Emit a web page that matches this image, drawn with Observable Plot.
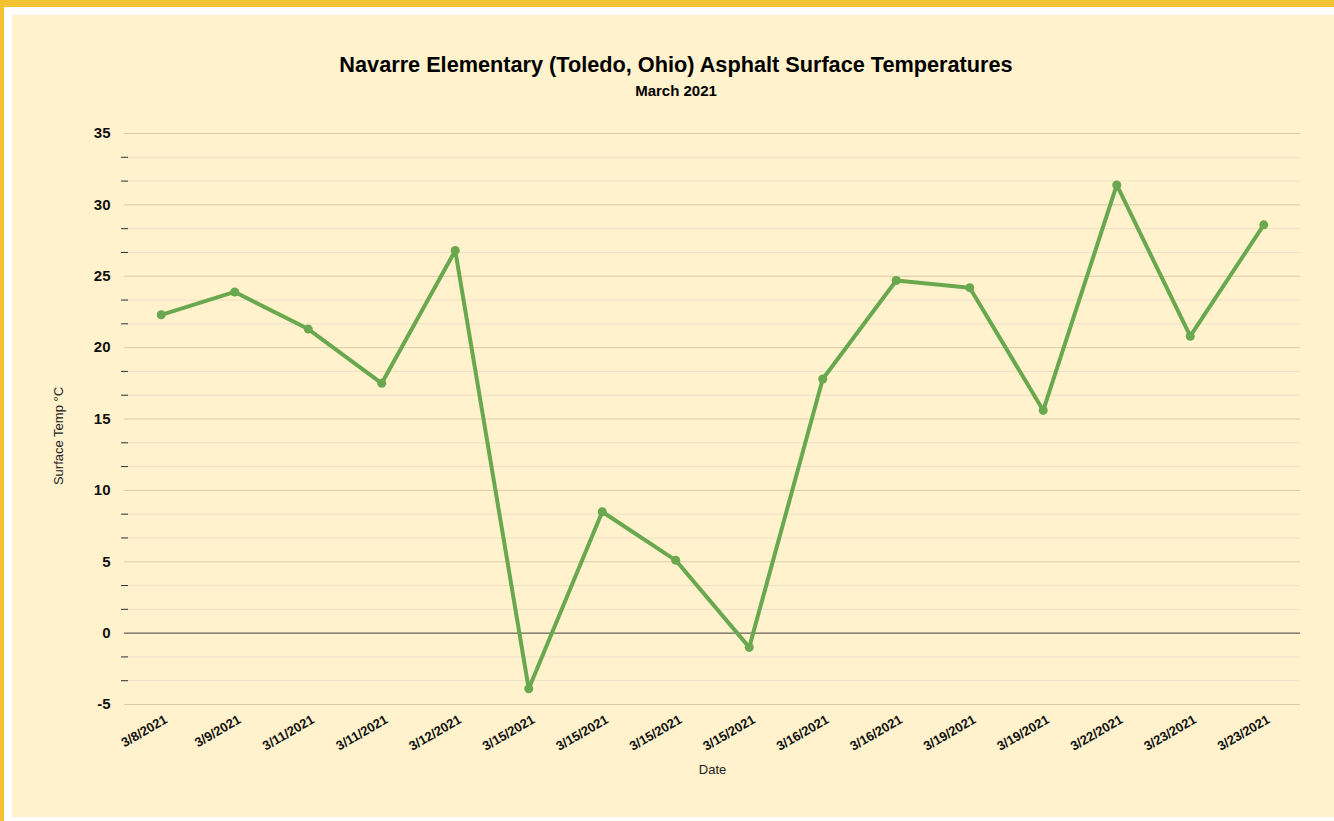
<!DOCTYPE html>
<html><head><meta charset="utf-8">
<script src="https://cdn.jsdelivr.net/npm/d3@7"></script>
<script src="https://cdn.jsdelivr.net/npm/@observablehq/plot@0.6"></script>
<style>
body{margin:0;background:#fff;width:1334px;height:821px;overflow:hidden;position:relative;font-family:"Liberation Sans",Arial,sans-serif}
#topbar{position:absolute;left:0;top:0;width:1334px;height:7px;background:#f1c232}
#leftbar{position:absolute;left:0;top:0;width:4px;height:821px;background:#f1c232}
#card{position:absolute;left:12px;top:15px;width:1322px;height:802px;background:#fff2cc}
#title{position:absolute;top:37px;left:3px;width:1322px;text-align:center;font-weight:bold;font-size:21.7px;line-height:26px;color:#000}
#subtitle{position:absolute;top:67px;left:3px;width:1322px;text-align:center;font-weight:bold;font-size:15px;line-height:18px;color:#000}
#chart{position:absolute;top:85px;left:0}
</style></head>
<body>
<div id="topbar"></div><div id="leftbar"></div>
<div id="card">
<div id="title">Navarre Elementary (Toledo, Ohio) Asphalt Surface Temperatures</div>
<div id="subtitle">March 2021</div>
<div id="chart"></div>
</div>
<script>
const dates = ["3/8/2021","3/9/2021","3/11/2021","3/11/2021","3/12/2021","3/15/2021","3/15/2021","3/15/2021","3/15/2021","3/16/2021","3/16/2021","3/19/2021","3/19/2021","3/22/2021","3/23/2021","3/23/2021"];
const temps = [22.3, 23.9, 21.3, 17.5, 26.8, -3.9, 8.5, 5.1, -1.0, 17.8, 24.7, 24.2, 15.6, 31.4, 20.8, 28.6];
const majorTicks = [-5, 0, 5, 10, 15, 20, 25, 30, 35];
const minorTicks = majorTicks.slice(0, -1).flatMap(t => [t + 5/3, t + 10/3]);
const yLabel = "Surface Temp °C";
const xLabel = "Date";

const data = temps.map((t, i) => ({i, date: dates[i], temp: t}));
const idx = data.map(d => d.i);

const chart = Plot.plot({
  width: 1322,
  height: 717,
  marginTop: 33,
  marginBottom: 113,
  marginLeft: 112,
  marginRight: 34,
  style: {background: "transparent", fontFamily: "Liberation Sans, Arial, sans-serif", color: "#000"},
  x: {type: "point", domain: idx, padding: 0.5, round: false},
  y: {domain: [-5, 35]},
  marks: [
    Plot.ruleY(minorTicks, {stroke: "#ebe0c6", strokeWidth: 1}),
    Plot.ruleY(majorTicks.filter(d => d !== 0), {stroke: "#d8cba6", strokeWidth: 1}),
    Plot.ruleY([0], {stroke: "#3f3f3f", strokeWidth: 1}),
    Plot.axisY(majorTicks, {tickSize: 0, tickPadding: 14, fontSize: 15, fontWeight: "bold", label: null, fill: "#111", tickFormat: d => String(d)}),
    Plot.axisY(minorTicks, {tickSize: 7, tickFormat: () => "", dx: 4, stroke: "#333", label: null}),
    Plot.axisX(idx, {tickSize: 0, tickRotate: -30, tickPadding: 14, fontSize: 13, fontWeight: "bold", label: null, tickFormat: i => dates[i], dx: 5, fill: "#111"}),
    Plot.line(data, {x: "i", y: "temp", stroke: "#6aa84f", strokeWidth: 4}),
    Plot.dot(data, {x: "i", y: "temp", fill: "#6aa84f", r: 4.5}),
    Plot.text([yLabel], {frameAnchor: "left", textAnchor: "middle", rotate: -90, dx: -66, dy: 17, fontSize: 13, fill: "#222"}),
    Plot.text([xLabel], {frameAnchor: "bottom", dy: 69, fontSize: 13, fill: "#222"})
  ]
});
document.getElementById("chart").appendChild(chart);
</script>
</body></html>
